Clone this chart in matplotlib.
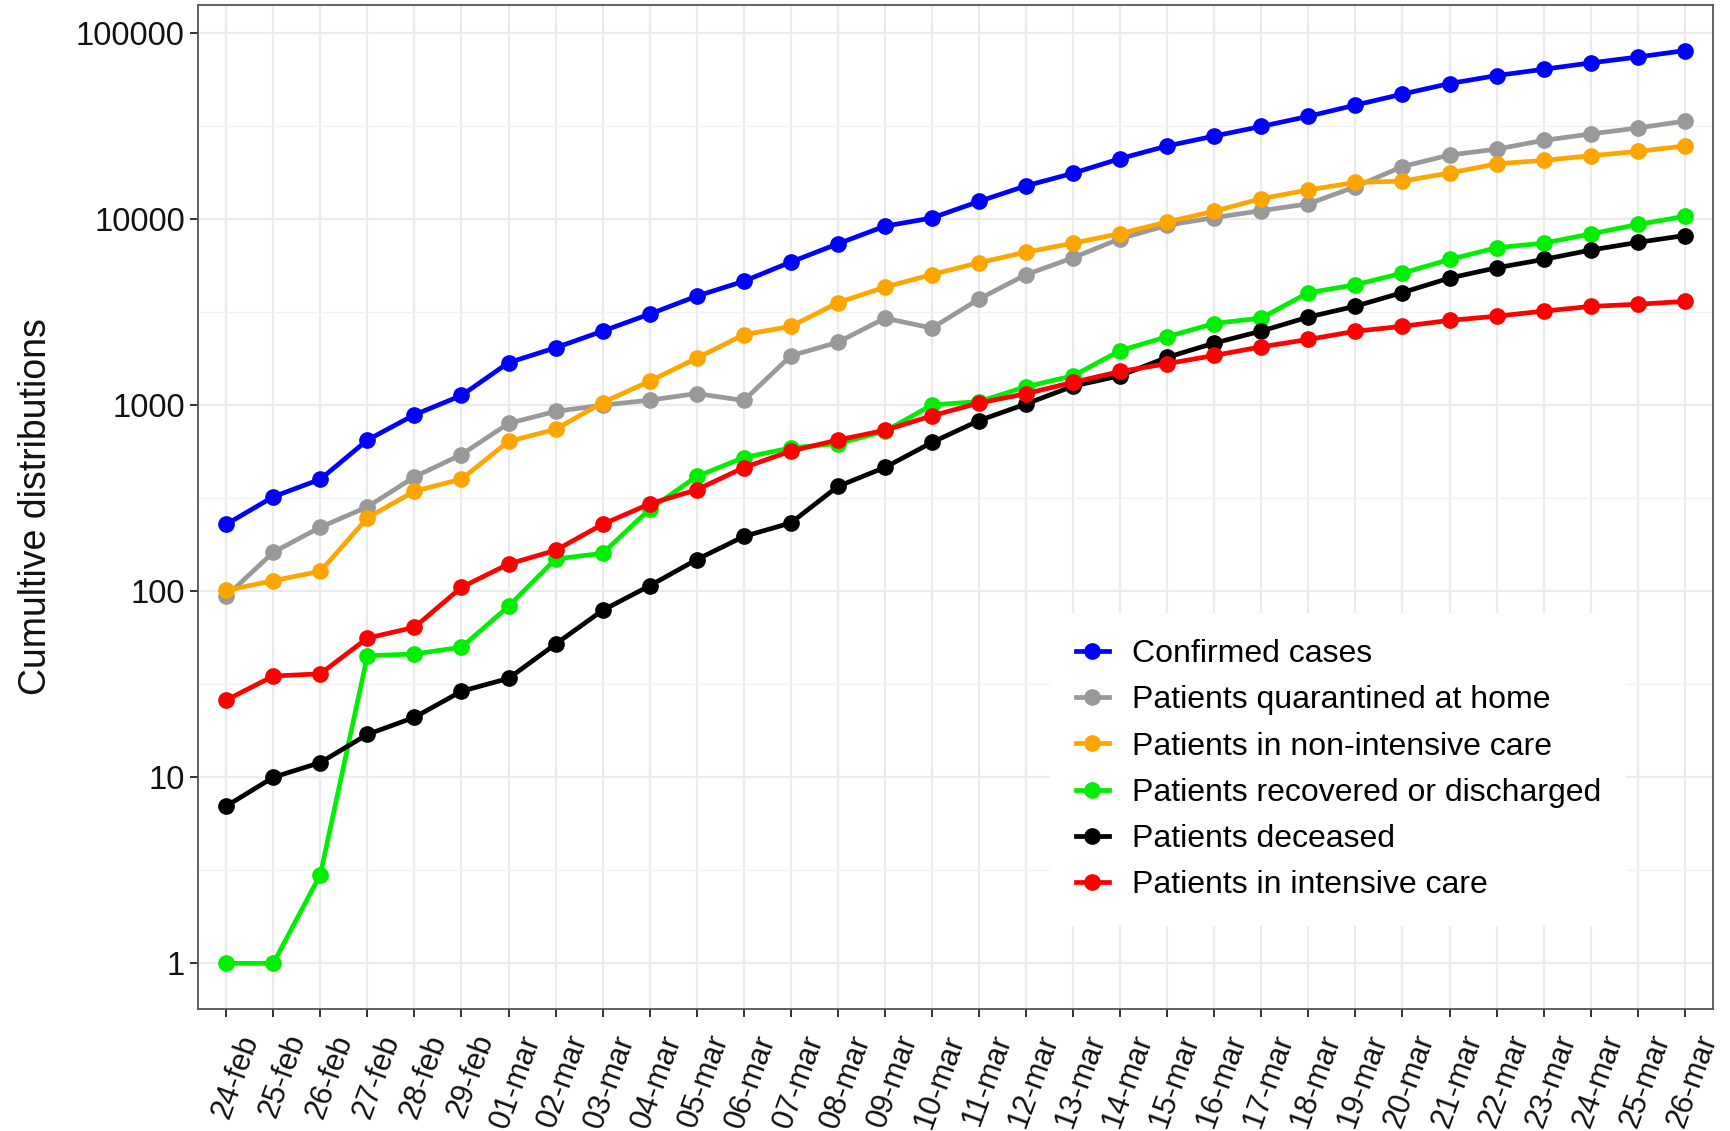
import matplotlib
matplotlib.use("Agg")
import matplotlib.pyplot as plt
from matplotlib.transforms import ScaledTranslation
import numpy as np

plt.rcParams['font.family'] = ['Liberation Sans', 'DejaVu Sans']

dates = ['24-feb', '25-feb', '26-feb', '27-feb', '28-feb', '29-feb',
         '01-mar', '02-mar', '03-mar', '04-mar', '05-mar', '06-mar', '07-mar',
         '08-mar', '09-mar', '10-mar', '11-mar', '12-mar', '13-mar', '14-mar',
         '15-mar', '16-mar', '17-mar', '18-mar', '19-mar', '20-mar', '21-mar',
         '22-mar', '23-mar', '24-mar', '25-mar', '26-mar']

confirmed = [229, 322, 400, 650, 888, 1128, 1694, 2036, 2502, 3089, 3858, 4636,
             5883, 7375, 9172, 10149, 12462, 15113, 17660, 21157, 24747, 27980,
             31506, 35713, 41035, 47021, 53578, 59138, 63927, 69176, 74386, 80539]
home = [94, 162, 221, 284, 412, 543, 798, 927, 1000, 1065, 1155, 1060, 1843,
        2180, 2936, 2599, 3724, 5036, 6201, 7860, 9268, 10197, 11108, 12090,
        14935, 19185, 22116, 23783, 26522, 28697, 30920, 33648]
non_intensive = [101, 114, 128, 248, 345, 401, 639, 742, 1034, 1346, 1790, 2394,
                 2651, 3557, 4316, 5038, 5838, 6650, 7426, 8372, 9663, 11025,
                 12894, 14363, 15757, 16020, 17708, 19846, 20692, 21937, 23112, 24753]
recovered = [1, 1, 3, 45, 46, 50, 83, 149, 160, 276, 414, 523, 589, 622, 724,
             1004, 1045, 1258, 1439, 1966, 2335, 2749, 2941, 4025, 4440, 5129,
             6072, 7024, 7432, 8326, 9362, 10361]
deceased = [7, 10, 12, 17, 21, 29, 34, 52, 79, 107, 148, 197, 233, 366, 463, 631,
            827, 1016, 1266, 1441, 1809, 2158, 2503, 2978, 3405, 4032, 4825, 5476,
            6077, 6820, 7503, 8165]
intensive = [26, 35, 36, 56, 64, 105, 140, 166, 229, 295, 351, 462, 567, 650,
             733, 877, 1028, 1153, 1328, 1518, 1672, 1851, 2060, 2257, 2498, 2655,
             2857, 3009, 3204, 3396, 3489, 3612]

series = [
    ('Confirmed cases', confirmed, '#0000FF'),
    ('Patients quarantined at home', home, '#999999'),
    ('Patients in non-intensive care', non_intensive, '#FFA500'),
    ('Patients recovered or discharged', recovered, '#00EE00'),
    ('Patients deceased', deceased, '#000000'),
    ('Patients in intensive care', intensive, '#FF0000'),
]

fig = plt.figure(figsize=(17.31, 11.31), dpi=100)
ax = fig.add_axes([0.1144, 0.1079, 0.8752, 0.8877])

x = np.arange(len(dates))
for label, vals, col in series:
    ax.plot(x, vals, color=col, lw=3.4, marker='o', ms=11, label=label)

ax.set_yscale('log')
major = [1, 10, 100, 1000, 10000, 100000]
ax.set_yticks(major)
ax.set_yticklabels([str(v) for v in major])
ax.set_yticks([10 ** (k + 0.5) for k in range(-1, 5)], minor=True)
ax.yaxis.set_minor_formatter(matplotlib.ticker.NullFormatter())
ax.set_xticks(x)
ax.set_xticklabels(dates, rotation=70, ha='right', va='top', rotation_mode='anchor')

# ggplot style expansion: 5% on the log axis, 0.6 on the discrete axis
all_vals = np.concatenate([np.array(v) for _, v, _ in series])
lo, hi = np.log10(all_vals.min()), np.log10(all_vals.max())
pad = 0.05 * (hi - lo)
ax.set_ylim(10 ** (lo - pad), 10 ** (hi + pad))
ax.set_xlim(-0.6, len(dates) - 1 + 0.6)

ax.tick_params(axis='both', which='major', length=5.5, width=1.4, color='#333333',
               labelcolor='#111111', pad=4)
ax.tick_params(axis='y', labelsize=23.5)
ax.tick_params(axis='x', labelsize=22, pad=10)
ax.tick_params(which='minor', length=0)
shift = ScaledTranslation(0.1, 0, fig.dpi_scale_trans)
for lbl in ax.get_xticklabels():
    lbl.set_transform(lbl.get_transform() + shift)

ax.set_axisbelow(True)
ax.grid(which='major', color='#EBEBEB', lw=1.6)
ax.grid(which='minor', axis='y', color='#F2F2F2', lw=1.0)
for s in ax.spines.values():
    s.set_color('#555555')
    s.set_linewidth(1.3)

ax.set_ylabel('Cumultive distributions', fontsize=27, color='#111111', labelpad=16)

leg = ax.legend(loc='upper left', bbox_to_anchor=(0.5624, 0.394), fontsize=23,
                frameon=True, fancybox=False, handlelength=1.05, handletextpad=0.7,
                labelspacing=0.51, borderpad=0.8, borderaxespad=0)
leg.get_frame().set_edgecolor('none')
leg.get_frame().set_facecolor('white')
leg.get_frame().set_alpha(1)

plt.savefig('out.png', dpi=100)
